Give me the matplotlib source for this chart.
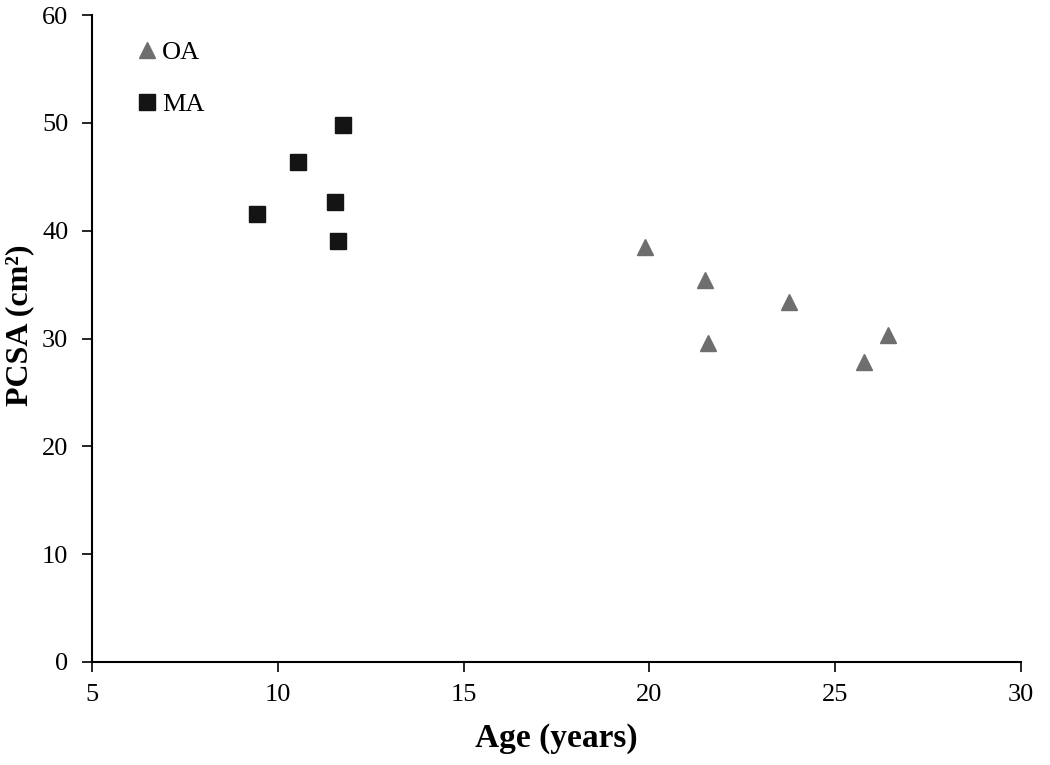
import matplotlib.pyplot as plt

# OA group (triangles)
oa_age = [19.88, 21.50, 21.57, 23.75, 25.77, 26.43]
oa_pcsa = [38.5, 35.4, 29.6, 33.4, 27.8, 30.3]

# MA group (squares)
ma_age = [9.43, 10.54, 11.53, 11.63, 11.76]
ma_pcsa = [41.5, 46.4, 42.7, 39.0, 49.8]

x_ticks = [5, 10, 15, 20, 25, 30]
y_ticks = [0, 10, 20, 30, 40, 50, 60]

plt.rcParams['font.family'] = ['Liberation Serif', 'DejaVu Serif']

fig = plt.figure(figsize=(10.5, 7.65), dpi=100)
ax = fig.add_axes([92 / 1050, 103 / 765, 929 / 1050, 647 / 765])

ax.plot(oa_age, oa_pcsa, linestyle='none', marker='^', ms=12,
        color='#6e6e6e', label='OA')
ax.plot(ma_age, ma_pcsa, linestyle='none', marker='s', ms=11.5,
        color='#141414', label='MA')

ax.set_xlim(5, 30)
ax.set_ylim(0, 60)
ax.set_xticks(x_ticks)
ax.set_yticks(y_ticks)
ax.tick_params(axis='both', direction='out', length=7, width=1.2,
               labelsize=19)
ax.tick_params(axis='y', pad=10)
ax.tick_params(axis='x', pad=9)

for side in ['top', 'right']:
    ax.spines[side].set_visible(False)
for side in ['left', 'bottom']:
    ax.spines[side].set_linewidth(1.5)

ax.set_xlabel('Age (years)', fontsize=24, fontweight='bold', labelpad=12)
ax.set_ylabel('PCSA (cm²)', fontsize=23, fontweight='bold')
ax.yaxis.set_label_coords(-0.062, 0.52)

ax.legend(loc='upper left', bbox_to_anchor=(0.034, 0.977), frameon=False,
          fontsize=19, handletextpad=0.05, labelspacing=1.1,
          handlelength=1.0, borderaxespad=0)

fig.savefig('out.png', dpi=100)
